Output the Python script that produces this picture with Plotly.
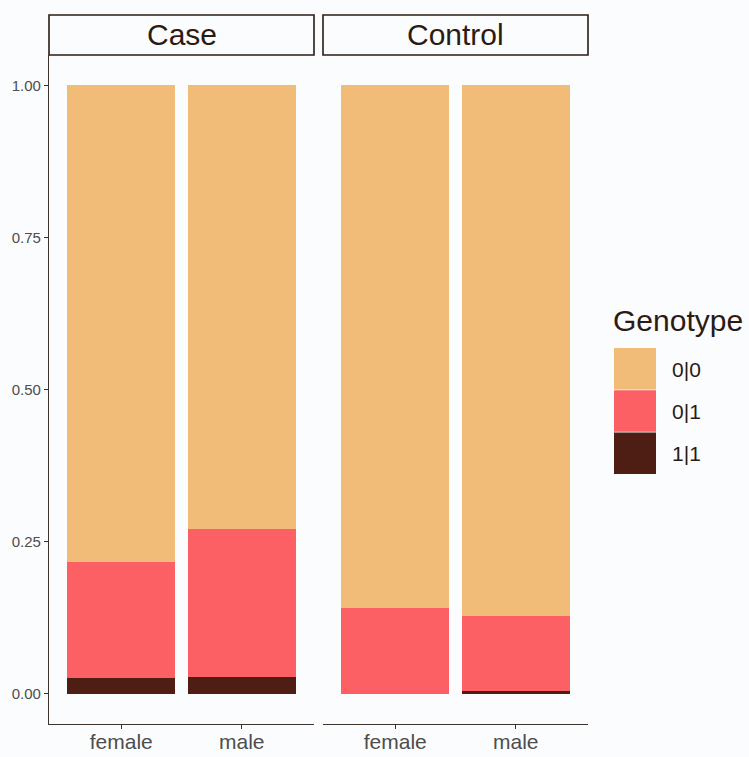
import plotly.graph_objects as go

# Genotype proportions by group and sex
groups = ["Case", "Control"]
sexes = ["female", "male"]
genotypes = ["0|0", "0|1", "1|1"]
case_00 = [0.784, 0.730]
case_01 = [0.191, 0.242]
case_11 = [0.025, 0.028]
ctrl_00 = [0.860, 0.873]
ctrl_01 = [0.140, 0.122]
ctrl_11 = [0.000, 0.005]
colors = {"0|0": "#F0BC78", "0|1": "#FC6065", "1|1": "#4E1E15"}
y_ticks = [0.0, 0.25, 0.5, 0.75, 1.0]

values = {
    "Case": {"0|0": case_00, "0|1": case_01, "1|1": case_11},
    "Control": {"0|0": ctrl_00, "0|1": ctrl_01, "1|1": ctrl_11},
}

BG = "#FBFCFE"
INK = "#2B1B14"
TICK = "#4D4D4D"
FONT = "Liberation Sans, Arial, Helvetica, sans-serif"

W, H = 749, 757
ML, MR, MT, MB = 49, 161, 15, 33
pw, ph = W - ML - MR, H - MT - MB
strip_h = 40
ydom_top = (ph - strip_h) / ph
xdoms = [[0, 265 / pw], [(323 - ML) / pw, 1]]

fig = go.Figure()
for gi, g in enumerate(groups):
    xa = "x" if gi == 0 else "x2"
    # bottom of stack first: 1|1, 0|1, then 0|0
    for gt in reversed(genotypes):
        fig.add_trace(go.Bar(
            x=sexes, y=values[g][gt], name=gt, width=0.9,
            marker=dict(color=colors[gt], line=dict(width=0)),
            xaxis=xa, yaxis="y" if gi == 0 else "y2",
            showlegend=False, hoverinfo="x+y+name",
        ))

axis_x = dict(
    type="category", range=[-0.6, 1.6], showgrid=False, zeroline=False,
    showline=True, linecolor="#3F332D", linewidth=1.3, automargin=False,
    ticks="outside", ticklen=4, tickcolor="#3F332D", tickwidth=1.3,
    ticklabelstandoff=-5,
    tickfont=dict(size=21, color=TICK, family=FONT),
)
axis_y = dict(
    range=[-0.05, 1.05], domain=[0, ydom_top], showgrid=False, zeroline=False,
    tickvals=y_ticks, ticktext=[f"{v:.2f}" for v in y_ticks], automargin=False,
    tickfont=dict(size=15, color=TICK, family=FONT),
)

fig.update_layout(
    width=W, height=H,
    margin=dict(l=ML, r=MR, t=MT, b=MB, autoexpand=False),
    paper_bgcolor=BG, plot_bgcolor=BG,
    barmode="stack", showlegend=False,
    font=dict(family=FONT, color=INK),
    xaxis=dict(axis_x, domain=xdoms[0], anchor="y"),
    xaxis2=dict(axis_x, domain=xdoms[1], anchor="y2"),
    yaxis=dict(axis_y, anchor="x", showline=True, linecolor="#3F332D",
               linewidth=1.3, ticks="outside", ticklen=4,
               tickcolor="#3F332D", tickwidth=1.3),
    yaxis2=dict(axis_y, anchor="x2", showticklabels=False, showline=False,
                ticks=""),
)

# Facet strips
for gi, g in enumerate(groups):
    x0, x1 = xdoms[gi]
    fig.add_shape(type="rect", xref="paper", yref="paper",
                  x0=x0, x1=x1, y0=ydom_top, y1=1,
                  line=dict(color=INK, width=1.6), fillcolor=BG, layer="below")
    fig.add_annotation(xref="paper", yref="paper", x=(x0 + x1) / 2,
                       y=(ydom_top + 1) / 2, text=g, showarrow=False,
                       font=dict(size=30, color=INK, family=FONT),
                       xanchor="center", yanchor="middle")

# Legend: title and square keys
def px_x(px):
    return (px - ML) / pw

def px_y(py):
    return 1 - (py - MT) / ph

fig.add_annotation(xref="paper", yref="paper", x=px_x(611), y=px_y(320),
                   text="Genotype", showarrow=False, xanchor="left",
                   yanchor="middle", font=dict(size=30, color=INK, family=FONT))
key_top, key_h = 348, 42.3
for i, gt in enumerate(genotypes):
    t = key_top + i * key_h
    fig.add_shape(type="rect", xref="paper", yref="paper",
                  x0=px_x(614), x1=px_x(656), y0=px_y(t + key_h - 0.8), y1=px_y(t),
                  line=dict(width=0), fillcolor=colors[gt])
    fig.add_annotation(xref="paper", yref="paper", x=px_x(670),
                       y=px_y(t + key_h / 2), text=gt, showarrow=False,
                       xanchor="left", yanchor="middle",
                       font=dict(size=21, color=INK, family=FONT))

fig.write_html("out.html")
